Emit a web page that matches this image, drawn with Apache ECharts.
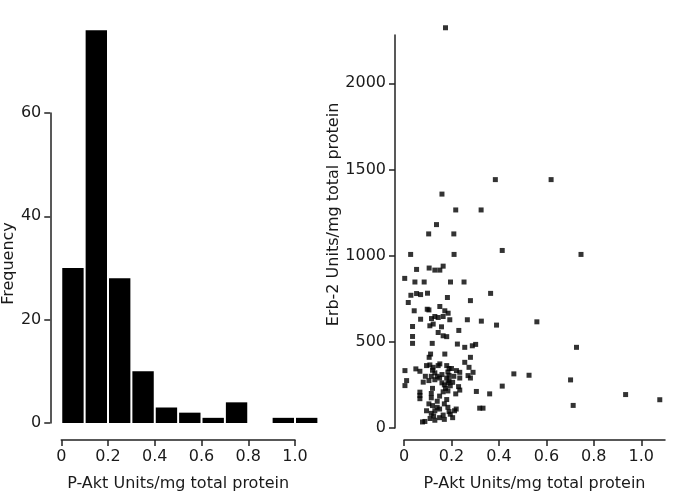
<!DOCTYPE html>
<html>
<head>
<meta charset="utf-8">
<script src="https://cdn.jsdelivr.net/npm/echarts@6/dist/echarts.min.js"></script>
<style>html,body{margin:0;padding:0;background:#fff;}#c{width:685px;height:497px;}</style>
</head>
<body>
<div id="c"></div>
<script>
// Histogram of P-Akt (bins of width 0.1)
var binStarts = [0, 0.1, 0.2, 0.3, 0.4, 0.5, 0.6, 0.7, 0.8, 0.9, 1.0];
var binWidth = 0.1;
var binCounts = [30, 76, 28, 10, 3, 2, 1, 4, 0, 1, 1];

// Scatter: P-Akt (x) vs Erb-2 (y)
var pAkt = [
  0.175, 0.385, 0.62, 0.16, 0.218, 0.325, 0.137, 0.104, 0.21, 0.028, 0.211, 0.414, 0.746,
  0.56, 0.727, 0.463, 0.527, 0.702, 0.414, 0.934, 1.078, 0.713,
  0.365, 0.326, 0.39, 0.302, 0.305, 0.361, 0.319, 0.333,
  0.253, 0.28, 0.231, 0.267, 0.225, 0.256, 0.288, 0.28, 0.256, 0.221, 0.235, 0.235, 0.274, 0.291, 0.27, 0.28, 0.23, 0.235, 0.218, 0.213, 0.22, 0.205, 0.21, 0.205, 0.2,
  0.053, 0.003, 0.046, 0.085, 0.029, 0.053, 0.07, 0.099, 0.018, 0.043, 0.07, 0.036, 0.036, 0.036, 0.004, 0.05, 0.067, 0.095, 0.011, 0.004, 0.081, 0.067, 0.067, 0.067, 0.078, 0.088, 0.095, 0.098, 0.09,
  0.106, 0.13, 0.151, 0.165, 0.196, 0.183, 0.105, 0.151, 0.172, 0.186, 0.116, 0.13, 0.144, 0.165, 0.193,
  0.109, 0.123, 0.158, 0.144, 0.165, 0.18, 0.119, 0.112, 0.106, 0.172, 0.151,
  0.109, 0.123, 0.144, 0.18, 0.19, 0.185, 0.19, 0.18, 0.19, 0.185, 0.195,
  0.12, 0.13, 0.14, 0.115, 0.15, 0.16, 0.13, 0.105, 0.16, 0.17, 0.175, 0.185,
  0.12, 0.115, 0.115, 0.15, 0.165, 0.18,
  0.105, 0.12, 0.14, 0.13, 0.15, 0.17, 0.185, 0.19, 0.195,
  0.115, 0.125, 0.11, 0.15, 0.165, 0.17, 0.13, 0.14
];
var erb2 = [
  2322, 1441, 1441, 1357, 1265, 1265, 1180, 1126, 1126, 1007, 1007, 1030, 1007,
  616, 468, 314, 306, 279, 243, 194, 164, 131,
  781, 620, 597, 485, 212, 198, 115, 115,
  847, 739, 566, 628, 487, 468, 477, 410, 381, 333, 323, 290, 352, 323, 304, 290, 240, 220, 198, 100, 110, 265, 300, 60, 345,
  920, 868, 847, 847, 770, 780, 774, 782, 728, 680, 631, 589, 531, 491, 333, 343, 329, 362, 275, 246, 266, 208, 189, 170, 35, 38, 100, 689, 300,
  928, 916, 916, 939, 847, 757, 685, 705, 680, 666, 635, 647, 641, 647, 628,
  593, 603, 587, 554, 535, 530, 491, 429, 410, 429, 372,
  366, 352, 362, 362, 345, 325, 305, 290, 275, 262, 245,
  335, 320, 300, 300, 290, 310, 280, 275, 262, 250, 230, 215,
  230, 200, 175, 185, 210, 165,
  140, 130, 120, 100, 110, 140, 120, 95, 80,
  85, 70, 55, 60, 75, 50, 45, 155
];

var histData = [];
for (var i = 0; i < binStarts.length; i++) {
  if (binCounts[i] > 0) histData.push([binStarts[i], binStarts[i] + binWidth, binCounts[i]]);
}
var scatterData = [];
for (var j = 0; j < pAkt.length; j++) scatterData.push([pAkt[j], erb2[j]]);

var FONT = 'DejaVu Sans';
var TXT = '#1a1a1a';
var LINE = {show: true, onZero: false, lineStyle: {color: '#222', width: 1.5}};
var TICK = {show: true, length: 6, lineStyle: {color: '#222', width: 1.5}};
function fmtX(v) { return v === 0 ? '0' : v.toFixed(1); }
function fmtY(v) { return String(v); }

var chart = echarts.init(document.getElementById('c'), null, {renderer: 'canvas'});
chart.setOption({
  animation: false,
  backgroundColor: '#fff',
  textStyle: {fontFamily: FONT},
  grid: [
    {left: 60, top: 113, width: 235, height: 311, containLabel: false},
    {left: 404, top: 35, width: 261, height: 394, containLabel: false}
  ],
  xAxis: [
    {
      gridIndex: 0, type: 'value', min: 0, max: 1.0, interval: 0.2, offset: 17,
      splitLine: {show: false},
      axisLine: LINE, axisTick: TICK,
      axisLabel: {color: TXT, fontSize: 16, fontFamily: FONT, margin: 9, formatter: fmtX},
      name: 'P-Akt Units/mg total protein', nameLocation: 'middle', nameGap: 36,
      nameTextStyle: {color: TXT, fontSize: 16, fontFamily: FONT}
    },
    {
      gridIndex: 1, type: 'value', min: 0, max: 1.1, offset: 12,
      splitLine: {show: false},
      axisLine: LINE,
      axisTick: {show: true, length: 6, lineStyle: {color: '#222', width: 1.5}, customValues: [0, 0.2, 0.4, 0.6, 0.8, 1.0]},
      axisLabel: {color: TXT, fontSize: 16, fontFamily: FONT, margin: 9, formatter: fmtX, customValues: [0, 0.2, 0.4, 0.6, 0.8, 1.0]},
      name: 'P-Akt Units/mg total protein', nameLocation: 'middle', nameGap: 36,
      nameTextStyle: {color: TXT, fontSize: 16, fontFamily: FONT}
    }
  ],
  yAxis: [
    {
      gridIndex: 0, type: 'value', min: 0, max: 60, interval: 20, offset: 11,
      splitLine: {show: false},
      axisLine: LINE, axisTick: TICK,
      axisLabel: {color: TXT, fontSize: 16, fontFamily: FONT, margin: 9, formatter: fmtY},
      name: 'Frequency', nameLocation: 'middle', nameGap: 30,
      nameTextStyle: {color: TXT, fontSize: 16, fontFamily: FONT, padding: [0, 0, 0, 9]}
    },
    {
      gridIndex: 1, type: 'value', min: 0, max: 2280, offset: 9,
      splitLine: {show: false},
      axisLine: LINE,
      axisTick: {show: true, length: 6, lineStyle: {color: '#222', width: 1.5}, customValues: [0, 500, 1000, 1500, 2000]},
      axisLabel: {color: TXT, fontSize: 16, fontFamily: FONT, margin: 9, formatter: fmtY, customValues: [0, 500, 1000, 1500, 2000]},
      name: 'Erb-2 Units/mg total protein', nameLocation: 'middle', nameGap: 52,
      nameTextStyle: {color: TXT, fontSize: 16, fontFamily: FONT, padding: [0, 0, 0, 34]}
    }
  ],
  series: [
    {
      type: 'custom', xAxisIndex: 0, yAxisIndex: 0, clip: false,
      encode: {x: [0, 1], y: 2},
      data: histData,
      renderItem: function (params, api) {
        var p0 = api.coord([api.value(0), 0]);
        var p1 = api.coord([api.value(1), api.value(2)]);
        return {
          type: 'rect',
          shape: {x: p0[0] + 1, y: p1[1], width: p1[0] - p0[0] - 2, height: p0[1] - p1[1]},
          style: {fill: '#000'}
        };
      }
    },
    {
      type: 'scatter', xAxisIndex: 1, yAxisIndex: 1, clip: false,
      symbol: 'rect', symbolSize: 5,
      itemStyle: {color: '#000'},
      data: scatterData
    }
  ]
});
</script>
</body>
</html>
